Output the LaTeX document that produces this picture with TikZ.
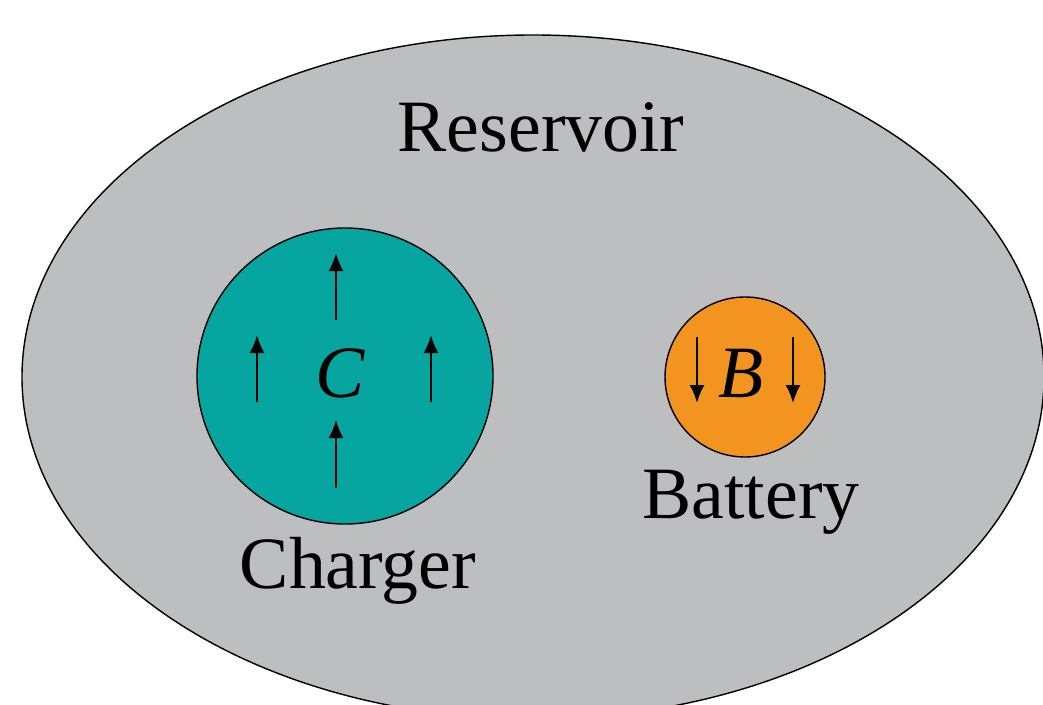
\documentclass[tikz,border=0pt]{standalone}
\usepackage{fontspec}
\setmainfont{Liberation Serif}
\newfontfamily\serifface{Liberation Serif}
\usetikzlibrary{arrows.meta,shapes.geometric}

\definecolor{resgray}{RGB}{189,190,192}
\definecolor{chteal}{RGB}{6,165,159}
\definecolor{batorange}{RGB}{243,148,32}

\begin{document}
\begin{tikzpicture}[
			font=\serifface\fontsize{21}{25}\selectfont,
			body/.style={draw, line width=0.4pt, inner sep=0pt},
			lbl/.style={anchor=base, inner sep=0pt},
			flow/.style={-{Latex[length=1.8mm,width=1.5mm]}, line width=0.6pt}
			]
			\useasboundingbox (0,0) rectangle (10.43,7.04);
			\node[body, ellipse, fill=resgray, minimum width=10.22cm, minimum height=6.84cm]
				(res) at (5.33,3.27) {};
			\node[body, circle, fill=chteal, minimum size=2.96cm] (charger) at (3.45,3.28) {};
			\node[body, circle, fill=batorange, minimum size=1.60cm] (battery) at (7.45,3.27) {};

			\node[lbl] (restext) at (5.41,5.52) {Reservoir};
			\node[lbl] (chtext) at (3.58,1.16) {Charger};
			\node[lbl] (battext) at (7.51,1.86) {Battery};
			\node[lbl] (csym) at (3.40,3.07) {\itshape C};
			\node[lbl] (bsym) at (7.41,3.07) {\itshape B};

			% charger pushes up
			\draw[flow] ([shift={(-0.09,0.56)}]charger.center) -- ++(0,0.67);
			\draw[flow] ([shift={(-0.09,-1.12)}]charger.center) -- ++(0,0.68);
			\draw[flow] ([shift={(-0.88,-0.26)}]charger.center) -- ++(0,0.67);
			\draw[flow] ([shift={(0.86,-0.26)}]charger.center) -- ++(0,0.67);

			% battery pulls down
			\draw[flow] ([shift={(-0.48,0.40)}]battery.center) -- ++(0,-0.66);
			\draw[flow] ([shift={(0.48,0.40)}]battery.center) -- ++(0,-0.66);
\end{tikzpicture}
\end{document}
